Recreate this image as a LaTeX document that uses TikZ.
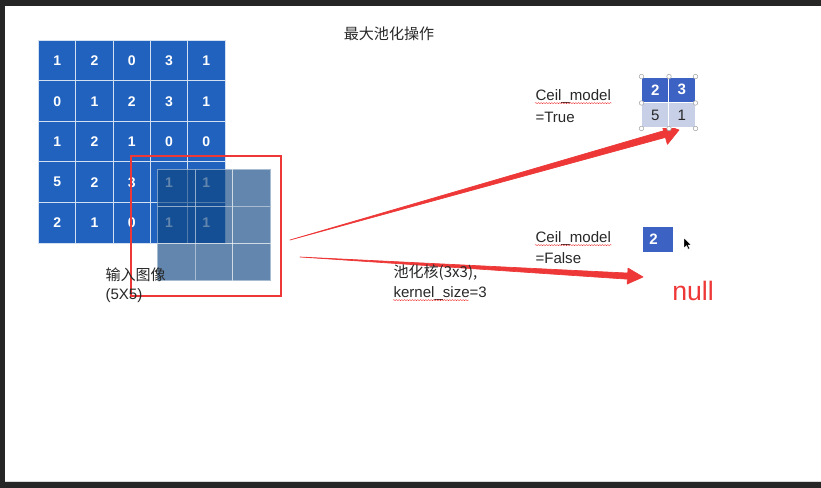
\documentclass[tikz,border=0pt]{standalone}
\usepackage{fontspec}
\setmainfont{Liberation Sans}
\newfontfamily\cjk{Noto Sans CJK SC}
\usetikzlibrary{calc,decorations.pathmorphing}

\definecolor{gridblue}{RGB}{32,98,190}
\definecolor{poolblue}{RGB}{14,70,130}
\definecolor{smallblue}{RGB}{60,98,196}
\definecolor{smalllight}{RGB}{200,208,232}
\definecolor{arrowred}{RGB}{238,56,56}
\definecolor{txtgray}{RGB}{40,40,40}
\definecolor{framegray}{RGB}{38,38,38}

\tikzset{every picture/.style={line width=0.75pt}}

\begin{document}
\begin{tikzpicture}[x=0.75pt,y=0.75pt,yscale=-1,xscale=1,
  incell/.style={draw=white!80!gridblue, fill=gridblue, minimum width=27.98pt, minimum height=30.4pt, inner sep=0pt, text=white, font=\fontsize{10.5}{12}\selectfont\bfseries},
  poolcell/.style={draw=white, draw opacity=0.45, fill=poolblue, fill opacity=0.65, minimum width=28.35pt, minimum height=27.85pt, inner sep=0pt},
  outcell/.style={draw=white, minimum width=19.9pt, minimum height=19.1pt, inner sep=0pt, font=\fontsize{11.3}{13}\selectfont},
  handle/.style={circle, draw=black!35, fill=white, line width=0.4pt, minimum size=3.4pt, inner sep=0pt},
  lbl/.style={inner sep=0pt, text=txtgray, font=\fontsize{11.3}{14}\selectfont},
  squiggle/.style={arrowred, line width=0.3pt, decorate, decoration={snake, amplitude=0.45pt, segment length=2pt}}]

\useasboundingbox (0,0) rectangle (821,488);
\fill [white] (0,0) rectangle (821,488);

\foreach \row [count=\r] in {{1,2,0,3,1},{0,1,2,3,1},{1,2,1,0,0},{5,2,3,1,1},{2,1,0,1,1}}
  \foreach \v [count=\c] in \row
    \node [incell] (in-\r-\c) at ({38.5+37.3*(\c-0.5)},{40.5+40.5*(\r-0.5)}) {\v};

\foreach \r in {1,2,3}
  \foreach \c in {1,2,3}
    \node [poolcell] (pool-\r-\c) at ({157.3+37.8*(\c-0.5)},{169.3+37.13*(\r-0.5)}) {};

\node [draw=arrowred, line width=2pt, minimum width=112.5pt, minimum height=105pt, inner sep=0pt] (win) at (206,226) {};

\coordinate (u0) at (290,240);
\coordinate (u1) at (679,130);
\coordinate (uh) at ($(u1)!11.3pt!(u0)$);
\filldraw [arrowred, line width=0.5pt, line join=round] (u0) -- ($(uh)!2.6pt!90:(u1)$) -- ($(uh)!8pt!90:(u1)$) -- (u1) -- ($(uh)!8pt!-90:(u1)$) -- ($(uh)!2.6pt!-90:(u1)$) -- cycle ;

\coordinate (l0) at (300,257);
\coordinate (l1) at (643,277);
\coordinate (lh) at ($(l1)!11.6pt!(l0)$);
\filldraw [arrowred, line width=0.5pt, line join=round] (l0) -- ($(lh)!2.3pt!90:(l1)$) -- ($(lh)!6pt!90:(l1)$) -- (l1) -- ($(lh)!6pt!-90:(l1)$) -- ($(lh)!2.3pt!-90:(l1)$) -- cycle ;

\node [outcell, fill=smallblue, text=white, font=\fontsize{11.3}{13}\selectfont\bfseries] (s-1-1) at (655.25,89.75) {2};
\node [outcell, fill=smallblue, text=white, font=\fontsize{11.3}{13}\selectfont\bfseries] (s-1-2) at (681.75,89.75) {3};
\node [outcell, fill=smalllight, text=txtgray] (s-2-1) at (655.25,115.25) {5};
\node [outcell, fill=smalllight, text=txtgray] (s-2-2) at (681.75,115.25) {1};

\node [handle] (h1) at (s-1-1.north west) {};
\node [handle] (h2) at (s-1-1.north east) {};
\node [handle] (h3) at (s-1-2.north east) {};
\node [handle] (h4) at (s-1-1.south west) {};
\node [handle] (h5) at (s-1-2.south east) {};
\node [handle] (h6) at (s-2-1.south west) {};
\node [handle] (h7) at (s-2-1.south east) {};
\node [handle] (h8) at (s-2-2.south east) {};

\node [fill=smallblue, minimum width=22.5pt, minimum height=18.75pt, inner sep=0pt] (f-box) at (658,239.5) {};
\node [text=white, inner sep=0pt, font=\fontsize{11.3}{13}\selectfont\bfseries] (f-val) at (653.5,239.5) {2};

\filldraw [black, draw=white, line width=0.3pt] (684,238) -- (684,248) -- (686.5,245.6) -- (688.2,249.2) -- (689.8,248.5) -- (688.1,245) -- (691.2,245) -- cycle ;

\node [lbl] (title) at (389,34) {\cjk 最大池化操作};

\node [lbl, anchor=west] (img1) at (105,275) {\cjk 输入图像};
\node [lbl, anchor=west] (img2) at (105,296) {(5X5)};

\node [lbl, anchor=west] (cm1) at (535,97) {Ceil\_model};
\node [lbl, anchor=west] (ct1) at (535,117) {=True};
\node [lbl, anchor=west] (cm2) at (535,239) {Ceil\_model};
\node [lbl, anchor=west] (cf2) at (535,258) {=False};

\node [lbl, anchor=west] (k1) at (393,273) {\cjk 池化核(3x3),};
\node [lbl, anchor=west] (k2) at (393,294) {kernel\_size=3};

\node [inner sep=0pt, text=arrowred, font=\fontsize{20}{24}\selectfont] (nul) at (693,291) {null};

\draw [squiggle] ([yshift=-1pt]cm1.south west) -- ([yshift=-1pt]cm1.south east) ;
\draw [squiggle] ([yshift=-1pt]cm2.south west) -- ([yshift=-1pt]cm2.south east) ;
\draw [squiggle] ([yshift=-1pt]k2.south west) -- ([yshift=-1pt,xshift=-14pt]k2.south east) ;

\draw [black!15, line width=0.75pt] (5,481) -- (821,481) ;
\fill [framegray] (0,0) rectangle (821,6) ;
\fill [framegray] (0,0) rectangle (5,488) ;
\fill [framegray] (0,482) rectangle (821,488) ;

\end{tikzpicture}
\end{document}
